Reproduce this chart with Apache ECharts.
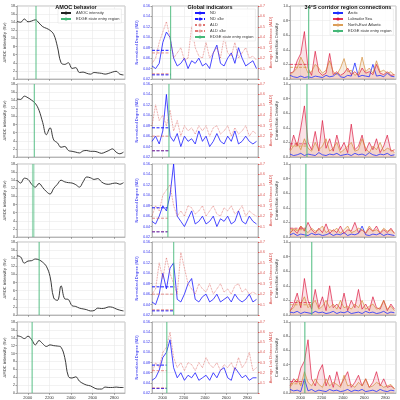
<!DOCTYPE html>
<html><head><meta charset="utf-8">
<script src="https://cdn.jsdelivr.net/npm/echarts@6/dist/echarts.min.js"></script>
<style>html,body{margin:0;padding:0;background:#fff}#c{width:400px;height:400px}</style>
</head><body><div id="c"></div>
<script>
var years=[1900,1934,1968,2002,2036,2070,2104,2138,2172,2206,2240,2274,2308,2342,2376,2410,2444,2478,2512,2546,2580,2614,2648,2682,2716,2750,2784,2818,2852,2886];
var xTicks=[2000,2200,2400,2600,2800];
var titles=["AMOC behavior","Global indicators","34°S corridor region connections"];
var edge=[2076,2060,2050,2105,2040];
var amoc=[
[14.2,14.0,14.8,14.1,14.3,14.6,13.8,12.9,12.5,12.0,11.0,8.0,4.0,3.6,4.0,2.6,2.8,1.6,1.7,1.4,1.2,1.6,1.5,1.4,1.2,1.4,1.7,1.9,1.2,1.0],
[14.3,14.2,15.0,14.6,14.0,13.2,11.5,8.5,5.5,7.2,4.2,3.5,2.4,2.6,1.6,1.4,1.2,1.0,1.5,1.6,1.4,1.4,1.2,0.9,1.2,1.6,2.0,1.2,0.8,1.2],
[14.0,13.3,14.5,14.2,13.0,12.3,13.2,12.2,11.2,10.6,12.0,13.0,14.0,13.6,13.4,13.3,12.9,12.3,13.6,14.8,14.6,14.2,14.4,13.6,13.1,13.0,13.2,13.3,13.0,13.4],
[14.6,14.3,12.8,13.3,13.4,13.8,13.6,13.0,12.0,9.5,4.2,3.6,7.2,4.0,3.8,2.3,2.1,1.7,1.5,1.3,1.0,1.1,1.7,1.6,1.7,2.0,1.9,1.5,1.2,1.0],
[14.5,14.3,13.8,14.4,13.5,12.2,13.3,12.5,11.8,12.2,12.0,11.9,11.6,9.0,4.2,3.8,4.1,3.0,2.4,2.0,1.8,1.3,1.0,1.0,1.5,1.4,1.4,1.5,1.4,1.4]];
var nd=[
[0.045,0.04,0.05,0.09,0.11,0.10,0.06,0.045,0.05,0.06,0.04,0.055,0.05,0.06,0.045,0.05,0.04,0.07,0.085,0.05,0.045,0.06,0.07,0.05,0.08,0.06,0.045,0.05,0.055,0.04],
[0.05,0.06,0.045,0.07,0.14,0.06,0.05,0.065,0.04,0.06,0.05,0.055,0.045,0.07,0.05,0.06,0.04,0.05,0.065,0.05,0.045,0.06,0.05,0.07,0.045,0.05,0.06,0.05,0.045,0.05],
[0.05,0.045,0.06,0.08,0.07,0.1,0.16,0.06,0.05,0.04,0.055,0.07,0.045,0.05,0.06,0.045,0.05,0.06,0.04,0.055,0.05,0.06,0.045,0.05,0.07,0.05,0.045,0.06,0.05,0.045],
[0.045,0.04,0.06,0.1,0.07,0.11,0.12,0.05,0.045,0.06,0.08,0.09,0.05,0.045,0.055,0.06,0.045,0.05,0.06,0.045,0.05,0.055,0.045,0.06,0.05,0.045,0.05,0.06,0.045,0.05],
[0.045,0.05,0.065,0.09,0.1,0.125,0.07,0.05,0.06,0.045,0.055,0.05,0.06,0.045,0.05,0.055,0.045,0.06,0.05,0.065,0.07,0.05,0.045,0.07,0.06,0.05,0.055,0.045,0.05,0.05]];
var ald=[
[0.15,0.2,0.35,0.45,0.55,0.4,0.2,0.25,0.3,0.18,0.2,0.5,0.3,0.22,0.2,0.35,0.2,0.25,0.3,0.2,0.4,0.25,0.22,0.35,0.2,0.25,0.3,0.2,0.22,0.18],
[0.3,0.5,0.35,0.4,0.3,0.45,0.25,0.35,0.2,0.3,0.25,0.28,0.22,0.3,0.25,0.3,0.2,0.28,0.3,0.22,0.25,0.3,0.2,0.28,0.22,0.25,0.3,0.2,0.25,0.22],
[0.2,0.3,0.25,0.4,0.45,0.5,0.3,0.2,0.25,0.2,0.3,0.28,0.22,0.25,0.3,0.2,0.25,0.3,0.22,0.2,0.28,0.25,0.3,0.22,0.25,0.3,0.2,0.25,0.22,0.2],
[0.2,0.25,0.5,0.35,0.55,0.4,0.3,0.2,0.6,0.45,0.3,0.25,0.2,0.3,0.25,0.22,0.3,0.2,0.25,0.3,0.22,0.25,0.2,0.28,0.3,0.22,0.25,0.2,0.22,0.2],
[0.2,0.3,0.25,0.4,0.45,0.6,0.35,0.25,0.3,0.22,0.3,0.28,0.22,0.3,0.25,0.35,0.28,0.25,0.3,0.22,0.28,0.25,0.3,0.22,0.35,0.25,0.3,0.4,0.22,0.25]];
var ndBand=[[0.075,0.028],[0.076,0.032],[0.076,0.03],[0.074,0.028],[0.075,0.029]];
var aldBand=[[0.25,0.05],[0.2,0.06],[0.18,0.05],[0.2,0.05],[0.22,0.05]];
var arctic=[
[0.05,0.03,0.02,0.04,0.02,0.03,0.02,0.04,0.03,0.02,0.05,0.03,0.04,0.08,0.03,0.02,0.05,0.04,0.22,0.03,0.05,0.04,0.03,0.2,0.04,0.05,0.03,0.08,0.04,0.03],
[0.04,0.02,0.03,0.05,0.02,0.04,0.03,0.02,0.06,0.03,0.02,0.04,0.03,0.05,0.02,0.03,0.04,0.02,0.05,0.03,0.04,0.02,0.06,0.03,0.02,0.04,0.03,0.05,0.02,0.03],
[0.03,0.05,0.02,0.04,0.03,0.02,0.05,0.03,0.04,0.02,0.03,0.05,0.02,0.04,0.03,0.06,0.02,0.04,0.03,0.05,0.15,0.03,0.02,0.04,0.03,0.05,0.02,0.04,0.03,0.02],
[0.04,0.03,0.05,0.02,0.04,0.03,0.02,0.05,0.03,0.04,0.02,0.03,0.05,0.02,0.04,0.03,0.05,0.02,0.03,0.04,0.02,0.05,0.03,0.04,0.02,0.03,0.05,0.02,0.04,0.03],
[0.05,0.03,0.04,0.02,0.2,0.03,0.05,0.02,0.04,0.03,0.02,0.05,0.03,0.04,0.02,0.03,0.05,0.02,0.04,0.03,0.05,0.02,0.03,0.04,0.02,0.05,0.03,0.02,0.04,0.03]];
var labr=[
[0.08,0.1,0.25,0.35,0.65,0.15,0.05,0.38,0.1,0.05,0.08,0.35,0.06,0.1,0.05,0.08,0.15,0.06,0.1,0.05,0.15,0.08,0.1,0.06,0.2,0.08,0.06,0.1,0.05,0.06],
[0.1,0.3,0.15,0.4,0.7,0.2,0.1,0.35,0.08,0.5,0.12,0.25,0.08,0.3,0.1,0.2,0.06,0.45,0.1,0.15,0.3,0.08,0.2,0.1,0.25,0.06,0.15,0.3,0.08,0.1],
[0.06,0.1,0.05,0.15,0.08,0.2,0.1,0.05,0.12,0.06,0.18,0.05,0.1,0.06,0.15,0.05,0.1,0.08,0.2,0.06,0.1,0.05,0.12,0.08,0.15,0.05,0.1,0.06,0.12,0.05],
[0.05,0.15,0.3,0.1,0.5,0.2,0.08,0.35,0.1,0.25,0.06,0.4,0.1,0.15,0.08,0.3,0.06,0.2,0.1,0.35,0.08,0.15,0.06,0.25,0.1,0.08,0.2,0.06,0.15,0.08],
[0.1,0.2,0.15,0.35,0.45,0.75,0.2,0.1,0.3,0.4,0.1,0.25,0.08,0.3,0.1,0.2,0.3,0.08,0.15,0.25,0.1,0.2,0.08,0.15,0.3,0.1,0.2,0.08,0.1,0.06]];
var nea=[
[0.05,0.1,0.15,0.3,0.2,0.08,0.1,0.2,0.15,0.08,0.12,0.25,0.1,0.06,0.15,0.28,0.1,0.12,0.05,0.08,0.3,0.1,0.15,0.08,0.25,0.1,0.12,0.08,0.1,0.05],
[0.08,0.15,0.2,0.1,0.25,0.12,0.08,0.2,0.1,0.15,0.25,0.08,0.12,0.2,0.06,0.1,0.15,0.2,0.08,0.1,0.25,0.12,0.06,0.15,0.1,0.2,0.08,0.12,0.1,0.06],
[0.05,0.12,0.08,0.15,0.1,0.06,0.12,0.08,0.1,0.15,0.06,0.1,0.08,0.12,0.05,0.1,0.15,0.06,0.08,0.12,0.1,0.06,0.15,0.08,0.1,0.06,0.12,0.08,0.1,0.05],
[0.06,0.1,0.2,0.15,0.25,0.1,0.15,0.2,0.08,0.12,0.2,0.1,0.15,0.08,0.2,0.1,0.12,0.08,0.15,0.1,0.2,0.08,0.12,0.15,0.08,0.1,0.2,0.08,0.12,0.06],
[0.08,0.15,0.2,0.1,0.3,0.15,0.1,0.2,0.12,0.08,0.2,0.1,0.15,0.12,0.08,0.25,0.1,0.12,0.08,0.15,0.1,0.2,0.08,0.1,0.15,0.12,0.08,0.1,0.12,0.06]];
var labBand=[0.2,0.18,0.12,0.17,0.16];
var neaBand=[0.16,0.15,0.1,0.14,0.13];

var tops=[6,84,164,242,322], H=73;
var lefts=[17,152,290], W=[108,106,106];
var GREEN='#45b878';
var grids=[],xA=[],yA=[],series=[];
function pair(xs,ys){return xs.map(function(x,i){return [x,ys[i]];});}
function fs(n){return {fontSize:n,color:'#333',fontFamily:'DejaVu Sans'};}
for(var r=0;r<5;r++){
 for(var c=0;c<3;c++){
  var gi=grids.length;
  grids.push({left:lefts[c],top:tops[r],width:W[c],height:H,show:true,borderColor:'#999',borderWidth:0.6});
  xA.push({type:'value',gridIndex:gi,min:1900,max:2900,
   axisLabel:{show:r==4,fontSize:4,color:'#333',customValues:xTicks,margin:3,formatter:function(v){return String(v);}},
   axisTick:{show:true,customValues:xTicks,length:2,lineStyle:{color:'#666',width:0.5}},
   axisLine:{lineStyle:{color:'#999',width:0.6}},
   splitLine:{show:true,lineStyle:{color:'#e4e4e4',width:0.5}}});
  var g=edge[r];
  if(c==0){
   var yi=yA.length;
   yA.push({type:'value',gridIndex:gi,min:0,max:18,interval:2,name:'AMOC intensity (Sv)',nameLocation:'middle',nameGap:9,nameTextStyle:fs(4),
    axisLabel:{fontSize:3.5,color:'#333',margin:2},axisTick:{length:1.5},axisLine:{show:true,lineStyle:{color:'#999',width:0.6}},splitLine:{lineStyle:{color:'#e4e4e4',width:0.5}}});
   series.push({name:'AMOC intensity',type:'line',xAxisIndex:gi,yAxisIndex:yi,data:pair(years,amoc[r]),smooth:0.4,symbol:'none',lineStyle:{color:'#222',width:0.9},itemStyle:{color:'#222'}});
   series.push({name:'EDGE state entry region',type:'line',xAxisIndex:gi,yAxisIndex:yi,data:[[g,0],[g,18]],symbol:'none',lineStyle:{color:GREEN,width:r==2?2.5:0.9,opacity:r==2?0.5:1},itemStyle:{color:GREEN}});
  } else if(c==1){
   var yi=yA.length;
   yA.push({type:'value',gridIndex:gi,min:0.02,max:0.16,interval:0.02,name:'Normalized Degree (ND)',nameLocation:'middle',nameGap:12,nameTextStyle:{fontSize:4,color:'#2222ee'},
    axisLabel:{fontSize:3.5,color:'#2222ee',margin:2,formatter:function(v){return v.toFixed(2);}},axisTick:{length:1.5},axisLine:{show:true,lineStyle:{color:'#999',width:0.6}},splitLine:{lineStyle:{color:'#e4e4e4',width:0.5}}});
   var yj=yA.length;
   yA.push({type:'value',gridIndex:gi,position:'right',min:0,max:0.7,interval:0.1,name:'Average Link Distance (ALD)',nameLocation:'middle',nameGap:9,nameTextStyle:{fontSize:4,color:'#d9534f'},
    axisLabel:{fontSize:3.5,color:'#d9534f',margin:2,formatter:function(v){return v==0?'':v.toFixed(1);}},axisTick:{show:true,length:1.5,lineStyle:{color:'#d9534f'}},axisLine:{show:true,lineStyle:{color:'#999',width:0.6}},splitLine:{show:false}});
   series.push({name:'ND',type:'line',xAxisIndex:gi,yAxisIndex:yi,data:pair(years,nd[r]),symbol:'none',lineStyle:{color:'#1a1aff',width:0.8},itemStyle:{color:'#1a1aff'}});
   series.push({name:'ALD',type:'line',xAxisIndex:gi,yAxisIndex:yj,data:pair(years,ald[r]),symbol:'none',lineStyle:{color:'#d9534f',width:0.8,type:'dotted',opacity:0.8},itemStyle:{color:'#e08a88'}});
   for(var k=0;k<2;k++){
    series.push({name:'ND ±3σ',type:'line',xAxisIndex:gi,yAxisIndex:yi,data:[[1900,ndBand[r][k]],[g,ndBand[r][k]]],symbol:'none',lineStyle:{color:'#1a1aff',width:1,type:[3,1.5]},itemStyle:{color:'#1a1aff'}});
    series.push({name:'ALD ±3σ',type:'line',xAxisIndex:gi,yAxisIndex:yj,data:[[1900,aldBand[r][k]],[g,aldBand[r][k]]],symbol:'none',lineStyle:{color:'#d9534f',width:0.8,type:[3,1.5],opacity:0.8},itemStyle:{color:'#e8a09e'}});
   }
   series.push({name:'EDGE state entry region',type:'line',xAxisIndex:gi,yAxisIndex:yi,data:[[g,0.02],[g,0.16]],symbol:'none',lineStyle:{color:GREEN,width:0.9},itemStyle:{color:GREEN}});
  } else {
   var yi=yA.length;
   yA.push({type:'value',gridIndex:gi,min:0,max:1,interval:0.2,name:'Connection Density',nameLocation:'middle',nameGap:9,nameTextStyle:fs(4),
    axisLabel:{fontSize:3.5,color:'#333',margin:2,formatter:function(v){return v.toFixed(1);}},axisTick:{length:1.5},axisLine:{show:true,lineStyle:{color:'#999',width:0.6}},splitLine:{lineStyle:{color:'#e4e4e4',width:0.5}}});
   series.push({name:'Arctic',type:'line',xAxisIndex:gi,yAxisIndex:yi,data:pair(years,arctic[r]),symbol:'none',lineStyle:{color:'#1f2fff',width:0.8},itemStyle:{color:'#1f2fff'}});
   series.push({name:'Labrador Sea',type:'line',xAxisIndex:gi,yAxisIndex:yi,data:pair(years,labr[r]),symbol:'none',lineStyle:{color:'#dc143c',width:0.8,opacity:0.85},areaStyle:{color:'#dc143c',opacity:0.12},itemStyle:{color:'#dc143c'}});
   series.push({name:'North-East Atlantic',type:'line',xAxisIndex:gi,yAxisIndex:yi,data:pair(years,nea[r]),symbol:'none',lineStyle:{color:'#d2862c',width:0.8,opacity:0.8},areaStyle:{color:'#d2862c',opacity:0.15},itemStyle:{color:'#e0a060'}});
   series.push({name:'lab3s',type:'line',xAxisIndex:gi,yAxisIndex:yi,data:[[1900,labBand[r]],[g,labBand[r]]],symbol:'none',lineStyle:{color:'#dc143c',width:0.7,type:[3,1.5]}});
   series.push({name:'nea3s',type:'line',xAxisIndex:gi,yAxisIndex:yi,data:[[1900,neaBand[r]],[g,neaBand[r]]],symbol:'none',lineStyle:{color:'#d2862c',width:0.7,type:[3,1.5]}});
   series.push({name:'EDGE state entry region',type:'line',xAxisIndex:gi,yAxisIndex:yi,data:[[g,0],[g,1]],symbol:'none',lineStyle:{color:GREEN,width:1.2,opacity:0.8},itemStyle:{color:GREEN}});
  }
 }
}
var lg={orient:'vertical',itemWidth:10,itemHeight:4,itemGap:2,textStyle:{fontSize:4,color:'#333'},backgroundColor:'rgba(255,255,255,0.8)',borderColor:'#ddd',borderWidth:0.5,padding:2};
var legends=[
 Object.assign({},lg,{left:58,top:9,data:['AMOC intensity','EDGE state entry region']}),
 Object.assign({},lg,{left:192,top:9,data:['ND','ND ±3σ','ALD','ALD ±3σ','EDGE state entry region']}),
 Object.assign({},lg,{left:330,top:9,data:['Arctic','Labrador Sea','North-East Atlantic','EDGE state entry region']})];
var chart=echarts.init(document.getElementById('c'),null,{renderer:'canvas'});
chart.setOption({animation:false,
 title:titles.map(function(t,i){return {text:t,left:lefts[i]+W[i]/2,top:-1,textAlign:'center',textStyle:{fontSize:5.5,fontWeight:'bold',color:'#111'}};}),
 legend:legends,grid:grids,xAxis:xA,yAxis:yA,series:series});
</script></body></html>
